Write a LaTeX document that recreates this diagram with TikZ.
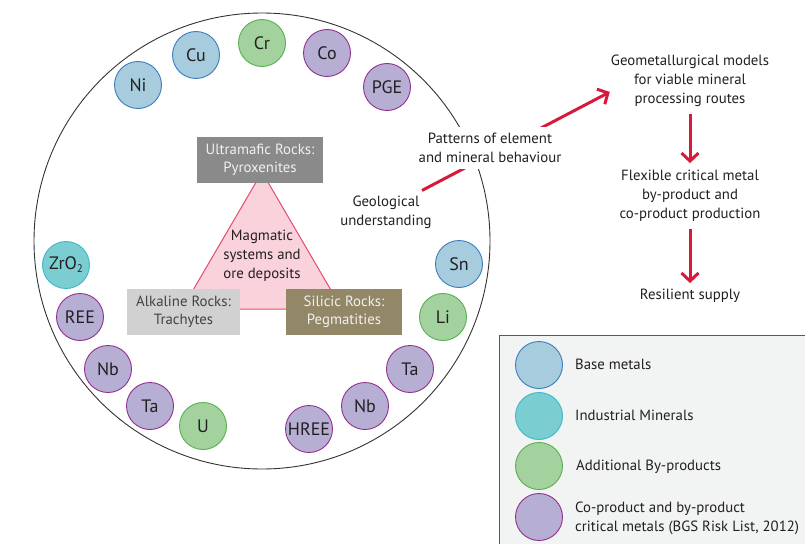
\documentclass[tikz,border=0pt]{standalone}
\usepackage{fontspec}
\setmainfont{PT Sans}
\usetikzlibrary{arrows.meta,calc}
\definecolor{txt}{HTML}{231F20}
\definecolor{basef}{HTML}{A6CCDD}\definecolor{based}{HTML}{3D7CC0}
\definecolor{indf}{HTML}{7ACDD0}\definecolor{indd}{HTML}{3DB8CC}
\definecolor{addf}{HTML}{A3D29E}\definecolor{addd}{HTML}{5AAF50}
\definecolor{copf}{HTML}{B6AED3}\definecolor{copd}{HTML}{93308F}
\definecolor{crim}{HTML}{D7193C}
\definecolor{pinkf}{HTML}{F9D2DC}\definecolor{pinkd}{HTML}{E54C6A}
\definecolor{ultraf}{HTML}{8A8A8A}\definecolor{alkf}{HTML}{D1D1D1}\definecolor{silf}{HTML}{928766}
\definecolor{legf}{HTML}{F2F3F3}
\begin{document}
\begin{tikzpicture}[x=1pt,y=-1pt,
  elem/.style={circle, minimum size=47pt, inner sep=0pt, line width=0.9pt, font=\fontsize{18}{20}\selectfont, text=txt},
  basem/.style={elem, fill=basef, draw=based},
  indm/.style={elem, fill=indf, draw=indd},
  addm/.style={elem, fill=addf, draw=addd},
  copm/.style={elem, fill=copf, draw=copd},
  lbl/.style={align=center, font=\fontsize{14.8}{19}\selectfont, text=txt, inner sep=2pt},
  rockbox/.style={minimum height=46pt, inner sep=0pt, align=center, font=\fontsize{14.8}{18.5}\selectfont},
  redline/.style={draw=crim, line width=3pt},
  redarrow/.style={redline, -{Straight Barb[length=8pt,width=17pt]}},
  legtxt/.style={anchor=west, align=left, font=\fontsize{14.8}{19}\selectfont, text=txt, inner sep=0pt}
]
\useasboundingbox (0,0) rectangle (805,543);
% legend box
\draw[fill=legf, draw=black!65, line width=0.9pt] (499,335) rectangle (812,552);
% big circle
\node[circle, draw=black!80, line width=0.9pt, minimum size=456pt, inner sep=0pt] (big) at (262,241) {};
% element circles
\node[basem] (ni) at (138,85) {Ni};
\node[basem] (cu) at (196,55) {Cu};
\node[addm] (cr) at (262,43) {Cr};
\node[copm] (co) at (327,53) {Co};
\node[copm] (pge) at (387,87) {PGE};
\node[indm] (zr) at (66,265) {ZrO\raisebox{-0.35ex}{\fontsize{11}{11}\selectfont 2}};
\node[copm] (ree) at (80,317) {REE};
\node[copm] (nbl) at (108,369) {Nb};
\node[copm] (tal) at (150,406) {Ta};
\node[addm] (u) at (203,426) {U};
\node[copm] (hree) at (309,429) {HREE};
\node[copm] (nbr) at (365,406) {Nb};
\node[copm] (tar) at (410,369) {Ta};
\node[addm] (li) at (443,317) {Li};
\node[basem] (sn) at (459,264) {Sn};
% triangle
\draw[fill=pinkf, draw=pinkd, line width=1pt] (262,172) -- (182,309) -- (342,309) -- cycle;
\node[lbl] (mag) at (262,256) {Magmatic\\systems and\\ore deposits};
\node[rockbox, fill=ultraf, text=white!94!black, minimum width=126pt] (ultra) at (260,160) {Ultramafic Rocks:\\Pyroxenites};
\node[rockbox, fill=alkf, text=txt!85, minimum width=113pt] (alk) at (183.5,312) {Alkaline Rocks:\\Trachytes};
\node[rockbox, fill=silf, text=white!94!black, minimum width=116pt] (sil) at (344,312) {Silicic Rocks:\\Pegmatities};
% right column
\node[lbl] (geo) at (386,212) {Geological\\understanding};
\node[lbl] (geomet) at (690,81) {Geometallurgical models\\for viable mineral\\processing routes};
\node[lbl] (flex) at (690,196) {Flexible critical metal\\by-product and\\co-product production};
\node[lbl] (res) at (690,296) {Resilient supply};
\draw[redarrow] ($(geo.north)+(36,-3)$) -- ($(geomet.west)+(1,11)$);
\node[lbl, fill=white, inner xsep=5pt, inner ysep=6pt] (pat) at (490,148) {Patterns of element\\and mineral behaviour};
\draw[redarrow, shorten <=5pt, shorten >=5pt] (geomet) -- (flex);
\draw[redarrow, shorten <=5pt, shorten >=4pt] (flex) -- (res);
% legend
\node[basem] (lb) at (539,365) {};
\node[indm] (li2) at (539,416) {};
\node[addm] (la) at (539,466) {};
\node[copm] (lc) at (539,517) {};
\node[legtxt] (tb) at (575,364) {Base metals};
\node[legtxt] (ti) at (575,415) {Industrial Minerals};
\node[legtxt] (ta) at (576,467) {Additional By-products};
\node[legtxt] (tc) at (575,518) {Co-product and by-product\\critical metals (BGS Risk List, 2012)};
\end{tikzpicture}
\end{document}
